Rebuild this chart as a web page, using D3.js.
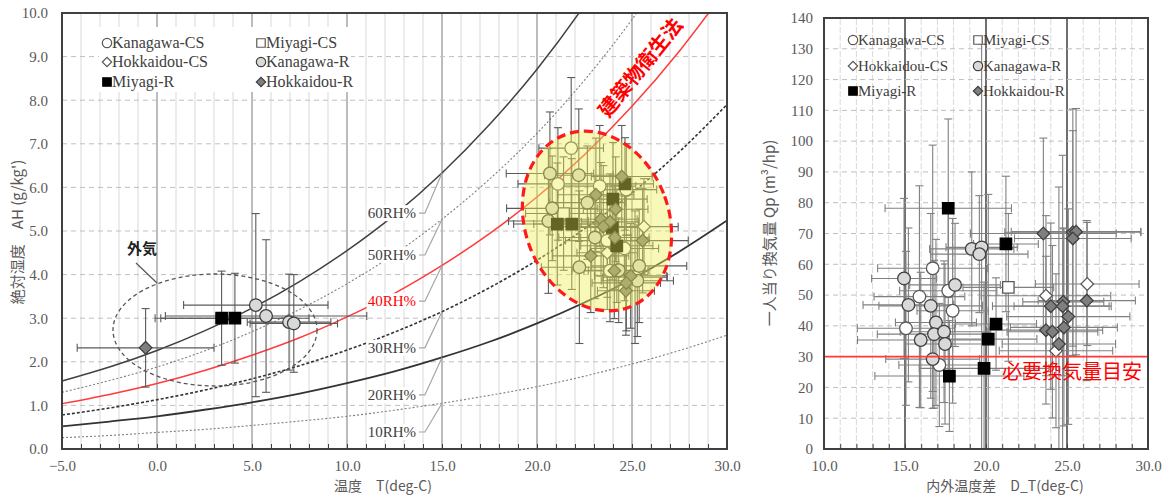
<!DOCTYPE html>
<html>
<head>
<meta charset="utf-8">
<script src="https://cdn.jsdelivr.net/npm/d3@7"></script>
<style>
  body { margin: 0; background: #fff; }
  text { font-family: "Liberation Serif", "Times New Roman", serif; }
  .jp { font-family: "Noto Sans CJK JP", sans-serif; }
</style>
</head>
<body>
<svg id="chart" width="1162" height="495"></svg>
<script>
// ---- data ----
const seriesNames = ["Kanagawa-CS", "Miyagi-CS", "Hokkaidou-CS", "Kanagawa-R", "Miyagi-R", "Hokkaidou-R"];

// left chart: [T, AH, sd T, sd AH]
const kanagawaCS_AH = [[21.8, 6.90, 1.7, 1.62], [21.1, 6.08, 2.1, 1.29], [23.3, 6.03, 1.9, 1.39], [24.7, 5.95, 1.6, 1.05],
  [23.7, 4.78, 2.2, 1.30], [24.6, 4.60, 1.8, 1.20], [23.84, 4.09, 2.0, 1.17], [25.16, 3.94, 1.7, 1.52]];
const miyagiCS_AH = [[21.4, 5.40, 2.0, 1.3]];
const hokkaidouCS_AH = [[25.63, 5.10, 1.8, 1.1], [23.7, 4.50, 1.6, 1.3]];
const kanagawaR_AH = [[5.2, 3.30, 3.8, 2.1], [5.74, 3.05, 5.3, 1.75], [6.95, 2.91, 2.2, 1.1], [7.2, 2.88, 2.3, 1.12],
  [20.68, 6.32, 2.3, 1.41], [22.2, 6.28, 1.8, 1.52], [22.65, 5.65, 2.0, 1.3], [20.8, 5.52, 2.4, 1.2], [20.6, 5.23, 2.1, 1.66],
  [23.05, 4.85, 1.9, 1.4], [22.23, 4.17, 2.0, 1.75], [25.38, 4.20, 2.5, 1.3], [25.28, 3.86, 1.9, 1.28], [24.3, 4.10, 1.6, 1.2]];
const miyagiR_AH = [[3.4, 3.0, 3.5, 1.08], [4.1, 3.0, 3.9, 1.03], [21.07, 5.16, 2.3, 1.4], [21.83, 5.16, 2.0, 1.5],
  [24.0, 5.73, 1.8, 1.3], [24.63, 6.08, 1.5, 1.06], [23.96, 5.08, 1.7, 1.2], [24.2, 4.66, 1.9, 1.3]];
const hokkaidouR_AH = [[-0.6, 2.32, 3.6, 0.9], [24.46, 6.25, 1.6, 1.17], [23.1, 5.83, 2.0, 1.3], [24.14, 5.5, 1.7, 1.2],
  [23.37, 5.27, 1.9, 1.3], [23.84, 5.21, 1.5, 1.1], [23.49, 5.10, 2.2, 1.4], [24.1, 4.85, 1.8, 1.2], [22.83, 4.43, 2.0, 1.3],
  [25.56, 4.78, 2.4, 1.2], [24.07, 4.09, 1.6, 1.1], [24.93, 3.97, 1.9, 1.2], [24.68, 3.63, 1.5, 1.02], [24.7, 3.81, 1.8, 1.1]];

// right chart: [D_T, Qp, sd D_T, sd Qp]
const kanagawaCS_Qp = [[16.71, 58.7, 3.4, 40], [17.67, 51.4, 3.0, 28], [15.89, 49.5, 2.8, 36], [17.94, 44.9, 2.2, 30],
  [15.06, 39.2, 3.0, 25], [17.12, 27.3, 2.5, 20]];
const miyagiCS_Qp = [[21.38, 52.5, 2.8, 24]];
const hokkaidouCS_Qp = [[23.7, 49.8, 4.0, 26], [26.25, 53.6, 3.2, 20], [24.32, 31.9, 3.5, 25]];
const kanagawaR_Qp = [[19.12, 65.0, 2.6, 25], [19.73, 65.5, 2.2, 66], [19.59, 63.3, 3.0, 19], [14.94, 55.4, 2.0, 26],
  [18.09, 53.3, 2.8, 20], [15.21, 46.8, 2.8, 25], [16.59, 46.5, 3.2, 30], [16.91, 41.1, 2.5, 27], [16.79, 37.3, 3.5, 24],
  [17.41, 38.1, 2.7, 23], [15.97, 35.4, 3.9, 22], [17.47, 34.1, 2.5, 26], [16.71, 29.2, 2.9, 16]];
const miyagiR_Qp = [[17.67, 78.2, 3.9, 29], [21.23, 66.6, 2.0, 22], [20.62, 40.6, 2.5, 15], [20.14, 35.7, 3.0, 47],
  [19.88, 26.2, 4.0, 28], [17.74, 23.7, 4.6, 18]];
const hokkaidouR_Qp = [[23.54, 70.0, 4.5, 31], [25.36, 70.4, 4.2, 40], [25.56, 70.6, 4.0, 40], [25.36, 68.4, 3.6, 35],
  [24.0, 46.4, 3.6, 27], [24.77, 47.8, 2.5, 24], [24.73, 46.4, 3.0, 49], [26.22, 48.2, 3.0, 26], [25.08, 43.0, 3.8, 35],
  [23.7, 38.6, 3.5, 24], [24.1, 38.1, 2.8, 28], [24.81, 39.5, 3.3, 32], [24.5, 34.1, 3.5, 51]];

// RH curves (g/kg') at these temperatures
const rhTemps = [-5, -2.5, 0, 2.5, 5, 7.5, 10, 12.5, 15, 17.5, 20, 22.5, 25, 27.5, 30];
const rh60 = [1.56, 1.88, 2.26, 2.71, 3.23, 3.84, 4.55, 5.37, 6.33, 7.44, 8.71, 10.18, 11.86, 13.8, 16.0];
const rh50 = [1.30, 1.57, 1.88, 2.25, 2.69, 3.20, 3.79, 4.47, 5.27, 6.19, 7.24, 8.46, 9.85, 11.45, 13.3];
const rh40 = [1.04, 1.25, 1.50, 1.80, 2.15, 2.55, 3.03, 3.57, 4.21, 4.94, 5.78, 6.75, 7.86, 9.13, 10.57];
const rh30 = [0.78, 0.94, 1.13, 1.35, 1.61, 1.91, 2.27, 2.68, 3.15, 3.70, 4.33, 5.05, 5.87, 6.82, 7.90];
const rh20 = [0.52, 0.63, 0.75, 0.90, 1.07, 1.27, 1.51, 1.78, 2.10, 2.46, 2.88, 3.36, 3.90, 4.53, 5.24];
const rh10 = [0.26, 0.31, 0.38, 0.45, 0.54, 0.64, 0.75, 0.89, 1.05, 1.23, 1.43, 1.67, 1.95, 2.26, 2.61];
const rhLabels = ["60RH%", "50RH%", "40RH%", "30RH%", "20RH%", "10RH%"];

const guideQp = 30;

// ---- setup ----
const svg = d3.select("#chart");
const fmt1 = d3.format(".1f");
const tickColor = "#595959";

const xL = d3.scaleLinear().domain([-5, 30]).range([62, 727]);
const yL = d3.scaleLinear().domain([0, 10]).range([449, 13]);
const xR = d3.scaleLinear().domain([10, 30]).range([824, 1148]);
const yR = d3.scaleLinear().domain([0, 140]).range([449, 18]);

const defs = svg.append("defs");
defs.append("clipPath").attr("id", "clipL").append("rect")
  .attr("x", 62).attr("y", 13).attr("width", 665).attr("height", 436);
defs.append("clipPath").attr("id", "clipR").append("rect")
  .attr("x", 824).attr("y", 18).attr("width", 324).attr("height", 431);

const marks = {
  "Kanagawa-CS": { sym: d3.symbolCircle, size: 125, rot: 0, fill: "#fff", stroke: "#595959" },
  "Miyagi-CS": { sym: d3.symbolSquare, size: 130, rot: 0, fill: "#fff", stroke: "#595959" },
  "Hokkaidou-CS": { sym: d3.symbolSquare, size: 80, rot: 45, fill: "#fff", stroke: "#595959" },
  "Kanagawa-R": { sym: d3.symbolCircle, size: 125, rot: 0, fill: "#d9d9d9", stroke: "#404040" },
  "Miyagi-R": { sym: d3.symbolSquare, size: 130, rot: 0, fill: "#000", stroke: "#000" },
  "Hokkaidou-R": { sym: d3.symbolSquare, size: 80, rot: 45, fill: "#7f7f7f", stroke: "#404040" }
};

function drawGrid(g, sx, sy, xs, ys, major, majorColor, minorDash) {
  g.selectAll(".vgrid").data(xs).join("line")
    .attr("x1", d => sx(d)).attr("x2", d => sx(d))
    .attr("y1", sy.range()[0]).attr("y2", sy.range()[1])
    .attr("stroke", d => major.includes(d) ? majorColor : "#d9d9d9")
    .attr("stroke-width", d => major.includes(d) ? 1.5 : 1)
    .attr("stroke-dasharray", d => major.includes(d) ? null : minorDash);
  g.selectAll(".hgrid").data(ys).join("line")
    .attr("x1", sx.range()[0]).attr("x2", sx.range()[1])
    .attr("y1", d => sy(d)).attr("y2", d => sy(d))
    .attr("stroke", "#bfbfbf").attr("stroke-dasharray", "5,4");
}

function drawAxes(sx, sy, xTicks, yTicks, yFmt, yPad) {
  const ax = svg.append("g").attr("transform", `translate(0,${sy.range()[0]})`)
    .call(d3.axisBottom(sx).tickValues(xTicks).tickSize(-5).tickPadding(11)
      .tickFormat(d => d % 5 === 0 ? fmt1(d) : ""));
  const ay = svg.append("g").attr("transform", `translate(${sx.range()[0]},0)`)
    .call(d3.axisLeft(sy).tickValues(yTicks).tickSize(0).tickPadding(yPad).tickFormat(yFmt));
  [ax, ay].forEach(a => {
    a.select(".domain").remove();
    a.selectAll("line").attr("stroke", "#404040");
    a.selectAll("text").attr("fill", tickColor).style("font-size", "15px")
      .style("font-family", "'Liberation Serif', serif");
  });
  // frame
  svg.append("rect")
    .attr("x", sx.range()[0]).attr("y", sy.range()[1])
    .attr("width", sx.range()[1] - sx.range()[0]).attr("height", sy.range()[0] - sy.range()[1])
    .attr("fill", "none").attr("stroke", "#404040").attr("stroke-width", 2);
}

function drawBars(g, sx, sy, rows, color) {
  rows.forEach(r => {
    const [a, b, sa, sb] = r;
    const cx = sx(a), cy = sy(b);
    const x0 = sx(a - sa), x1 = sx(a + sa), y0 = sy(b - sb), y1 = sy(b + sb);
    const add = (p, q, s, t) => g.append("line").attr("x1", p).attr("y1", q).attr("x2", s).attr("y2", t)
      .attr("stroke", color).attr("stroke-width", 1.1);
    add(x0, cy, x1, cy);
    add(x0, cy - 4, x0, cy + 4);
    add(x1, cy - 4, x1, cy + 4);
    add(cx, y0, cx, y1);
    add(cx - 4, y0, cx + 4, y0);
    add(cx - 4, y1, cx + 4, y1);
  });
}

function drawMarks(g, sx, sy, rows, name) {
  const m = marks[name];
  g.selectAll(null).data(rows).join("path")
    .attr("d", d3.symbol(m.sym, m.size))
    .attr("transform", d => `translate(${sx(d[0])},${sy(d[1])}) rotate(${m.rot})`)
    .attr("fill", m.fill).attr("stroke", m.stroke).attr("stroke-width", 1.3);
}

function drawLegend(x0, x1, ys, fontSize, symScale, withBg) {
  const lg = svg.append("g");
  if (withBg) {
    lg.append("rect").attr("x", x0 - 8).attr("y", ys[0] - 16).attr("width", 252).attr("height", 65).attr("fill", "#fff");
  }
  seriesNames.forEach((name, i) => {
    const col = i % 2, row = Math.floor(i / 2);
    const x = col === 0 ? x0 : x1, y = ys[row];
    const m = marks[name];
    lg.append("path")
      .attr("d", d3.symbol(m.sym, m.size * symScale))
      .attr("transform", `translate(${x},${y}) rotate(${m.rot})`)
      .attr("fill", m.fill).attr("stroke", m.stroke).attr("stroke-width", 1.2);
    lg.append("text").attr("x", x + 5).attr("y", y + 5)
      .attr("fill", "#404040").style("font-size", fontSize + "px").text(name);
  });
}

// ---- left chart ----
const gridL = svg.append("g");
drawGrid(gridL, xL, yL, d3.range(-4, 30), d3.range(1, 10), [0, 5, 10, 15, 20, 25], "#a6a6a6", null);

const plotL = svg.append("g").attr("clip-path", "url(#clipL)");
const rhSets = [
  { vals: rh60, color: "#404040", width: 1.5, dash: null },
  { vals: rh50, color: "#7f7f7f", width: 1.1, dash: "2,2" },
  { vals: rh40, color: "#ff3b3b", width: 1.5, dash: null },
  { vals: rh30, color: "#333", width: 1.6, dash: "3,2" },
  { vals: rh20, color: "#333", width: 1.8, dash: null },
  { vals: rh10, color: "#7f7f7f", width: 1.1, dash: "2,2" }
];
const rhLine = d3.line().x(d => xL(d[0])).y(d => yL(d[1])).curve(d3.curveMonotoneX);
rhSets.forEach(s => {
  plotL.append("path")
    .attr("d", rhLine(rhTemps.map((t, i) => [t, s.vals[i]])))
    .attr("fill", "none").attr("stroke", s.color).attr("stroke-width", s.width)
    .attr("stroke-dasharray", s.dash);
});

// outdoor ellipse
plotL.append("ellipse").attr("cx", 215).attr("cy", 330).attr("rx", 102).attr("ry", 56)
  .attr("fill", "none").attr("stroke", "#555").attr("stroke-width", 1.3).attr("stroke-dasharray", "4,3");

const leftSets = [
  ["Kanagawa-CS", kanagawaCS_AH], ["Miyagi-CS", miyagiCS_AH], ["Hokkaidou-CS", hokkaidouCS_AH],
  ["Kanagawa-R", kanagawaR_AH], ["Miyagi-R", miyagiR_AH], ["Hokkaidou-R", hokkaidouR_AH]
];
leftSets.forEach(s => drawBars(plotL, xL, yL, s[1], "#5a5a5a"));
leftSets.forEach(s => drawMarks(plotL, xL, yL, s[1], s[0]));

// indoor ellipse (yellow, over the points)
plotL.append("ellipse").attr("cx", 0).attr("cy", 0).attr("rx", 72).attr("ry", 92)
  .attr("transform", "translate(597,221) rotate(-20)")
  .attr("fill", "#eeee55").attr("fill-opacity", 0.42)
  .attr("stroke", "#ff1a1a").attr("stroke-width", 3.2).attr("stroke-dasharray", "9,5");

// RH labels with leaders
const labelAH = [5.41, 4.45, 3.39, 2.32, 1.24, 0.39];
rhLabels.forEach((lab, i) => {
  const ly = yL(labelAH[i]);
  const tx = xL(13.63);
  const t = svg.append("text").attr("x", tx).attr("y", ly + 5).attr("text-anchor", "end")
    .attr("fill", lab === "40RH%" ? "#ff0000" : "#404040").style("font-size", "15px").text(lab);
  const bb = t.node().getBBox();
  svg.insert("rect", () => t.node()).attr("x", bb.x - 1).attr("y", bb.y).attr("width", bb.width + 2)
    .attr("height", bb.height).attr("fill", "#fff");
  svg.append("polyline")
    .attr("points", `${tx + 3},${ly} ${xL(14.1)},${ly} ${xL(15)},${yL(rhSets[i].vals[8])}`)
    .attr("fill", "none").attr("stroke", "#a6a6a6").attr("stroke-width", 1.2);
});

// annotations
svg.append("text").attr("class", "jp").attr("x", 127).attr("y", 254)
  .attr("fill", "#222").style("font-size", "15px").style("font-weight", "bold").text("外気");
svg.append("line").attr("x1", 136).attr("y1", 263).attr("x2", 157).attr("y2", 283)
  .attr("stroke", "#555").attr("stroke-width", 1.2);
svg.append("text").attr("class", "jp").attr("text-anchor", "middle")
  .attr("transform", "translate(646,72) rotate(-51)")
  .attr("fill", "#ff0000").style("font-size", "20px").style("font-weight", "bold").text("建築物衛生法");

drawAxes(xL, yL, d3.range(-5, 31), d3.range(0, 11), fmt1, 14);
drawLegend(107, 261, [43, 62, 82], 16, 0.55, true);

svg.append("text").attr("class", "jp").attr("x", 383).attr("y", 491).attr("text-anchor", "middle")
  .attr("fill", tickColor).style("font-size", "14px").text("温度　T(deg-C)");
svg.append("text").attr("class", "jp").attr("text-anchor", "middle")
  .attr("transform", "translate(23,232) rotate(-90)")
  .attr("fill", tickColor).style("font-size", "15px").text("絶対湿度　AH (g/kg')");

// ---- right chart ----
const gridR = svg.append("g");
drawGrid(gridR, xR, yR, d3.range(11, 30), d3.range(10, 140, 10), [15, 20, 25], "#404040", "6,2");

const plotR = svg.append("g").attr("clip-path", "url(#clipR)");
const rightSets = [
  ["Kanagawa-CS", kanagawaCS_Qp], ["Miyagi-CS", miyagiCS_Qp], ["Hokkaidou-CS", hokkaidouCS_Qp],
  ["Kanagawa-R", kanagawaR_Qp], ["Miyagi-R", miyagiR_Qp], ["Hokkaidou-R", hokkaidouR_Qp]
];
rightSets.forEach(s => drawBars(plotR, xR, yR, s[1], "#808080"));
rightSets.forEach(s => drawMarks(plotR, xR, yR, s[1], s[0]));

plotR.append("line").attr("x1", xR(10)).attr("x2", xR(30)).attr("y1", yR(guideQp)).attr("y2", yR(guideQp))
  .attr("stroke", "#ff3b3b").attr("stroke-width", 1.6);
svg.append("text").attr("class", "jp").attr("x", 1142).attr("y", 379).attr("text-anchor", "end")
  .attr("fill", "#ff0000").style("font-size", "20px").text("必要換気量目安");

drawAxes(xR, yR, d3.range(10, 31), d3.range(0, 141, 10), d3.format("d"), 11);
drawLegend(853, 978, [40, 66, 91], 15, 0.55, false);

svg.append("text").attr("class", "jp").attr("x", 1005).attr("y", 491).attr("text-anchor", "middle")
  .attr("fill", tickColor).style("font-size", "14px").text("内外温度差　D_T(deg-C)");
svg.append("text").attr("class", "jp").attr("text-anchor", "middle")
  .attr("transform", "translate(775,233) rotate(-90)")
  .attr("fill", tickColor).style("font-size", "15px").text("一人当り換気量 Qp (m³/hp)");
</script>
</body>
</html>
